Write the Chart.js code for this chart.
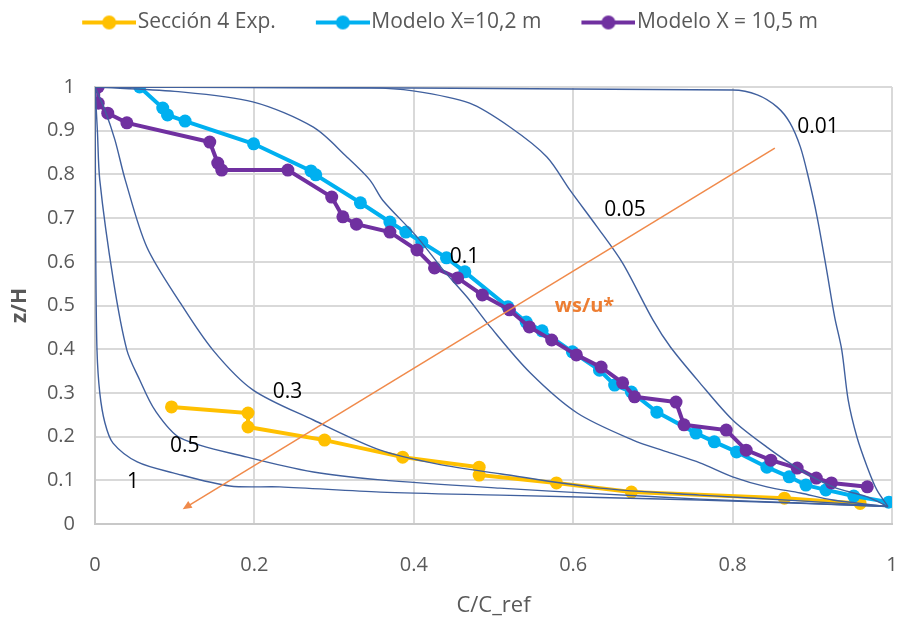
<!DOCTYPE html>
<html>
<head>
<meta charset="utf-8">
<script src="https://cdn.jsdelivr.net/npm/chart.js@4.4.1/dist/chart.umd.min.js"></script>
<style>
  html, body { margin: 0; padding: 0; background: #fff; }
  #wrap { width: 901px; height: 624px; }
</style>
</head>
<body>
<div id="wrap"><canvas id="c" width="901" height="624"></canvas></div>
<script>
// measured series (C/C_ref, z/H)
const seccion4X = [0.096, 0.192, 0.192, 0.288, 0.386, 0.482, 0.482, 0.579, 0.673, 0.865, 0.96];
const seccion4Y = [0.268, 0.254, 0.222, 0.192, 0.153, 0.130, 0.112, 0.094, 0.073, 0.059, 0.047];

const modelo102X = [0.056, 0.085, 0.091, 0.113, 0.199, 0.271, 0.277, 0.333, 0.370, 0.390, 0.410, 0.441, 0.464,
  0.518, 0.541, 0.561, 0.599, 0.633, 0.652, 0.673, 0.705, 0.754, 0.777, 0.805, 0.843, 0.871, 0.892, 0.917, 0.952, 0.996];
const modelo102Y = [1.0, 0.952, 0.936, 0.922, 0.870, 0.808, 0.799, 0.735, 0.691, 0.668, 0.645, 0.609, 0.577,
  0.497, 0.462, 0.442, 0.394, 0.352, 0.318, 0.302, 0.256, 0.208, 0.188, 0.165, 0.130, 0.108, 0.089, 0.078, 0.064, 0.050];

const modelo105X = [0.004, 0.004, 0.016, 0.040, 0.144, 0.154, 0.159, 0.242, 0.297, 0.311, 0.328, 0.370, 0.404, 0.426,
  0.455, 0.486, 0.520, 0.545, 0.573, 0.604, 0.635, 0.662, 0.677, 0.729, 0.739, 0.792, 0.817, 0.848, 0.881, 0.905, 0.924, 0.969];
const modelo105Y = [1.0, 0.963, 0.940, 0.918, 0.874, 0.826, 0.810, 0.810, 0.748, 0.703, 0.686, 0.668, 0.627, 0.586,
  0.563, 0.524, 0.490, 0.451, 0.421, 0.387, 0.359, 0.323, 0.291, 0.279, 0.227, 0.215, 0.169, 0.146, 0.128, 0.105, 0.094, 0.085];

// Rouse profiles, ws/u* = 0.01 ... 1
const rouse001X = [0, 0.80, 0.831, 0.856, 0.872, 0.885, 0.895, 0.906, 0.918, 0.928, 0.937, 0.945, 0.956, 0.969, 0.981, 0.995];
const rouse001Y = [1, 0.993, 0.982, 0.954, 0.918, 0.863, 0.794, 0.703, 0.581, 0.474, 0.398, 0.284, 0.199, 0.130, 0.078, 0.04];

const rouse005X = [0, 0.345, 0.399, 0.47, 0.521, 0.567, 0.596, 0.630, 0.662, 0.700, 0.722, 0.757, 0.80, 0.843, 0.885, 0.926, 0.969, 0.995];
const rouse005Y = [1, 0.998, 0.991, 0.963, 0.908, 0.840, 0.764, 0.680, 0.597, 0.467, 0.405, 0.327, 0.238, 0.176, 0.124, 0.085, 0.062, 0.04];

const rouse01X = [0, 0.10, 0.198, 0.274, 0.316, 0.345, 0.361, 0.404, 0.437, 0.467, 0.496, 0.546, 0.605, 0.675, 0.718, 0.759, 0.80, 0.843, 0.885, 0.926, 0.995];
const rouse01Y = [1, 0.99, 0.966, 0.908, 0.840, 0.787, 0.741, 0.657, 0.581, 0.519, 0.451, 0.346, 0.254, 0.192, 0.165, 0.140, 0.108, 0.085, 0.071, 0.055, 0.04];

const rouse03X = [0, 0.0125, 0.025, 0.038, 0.065, 0.107, 0.148, 0.198, 0.274, 0.358, 0.43, 0.508, 0.634, 0.759, 0.885, 0.995];
const rouse03Y = [1, 0.947, 0.879, 0.787, 0.634, 0.506, 0.398, 0.307, 0.238, 0.169, 0.137, 0.115, 0.082, 0.066, 0.053, 0.04];

const rouse05X = [0, 0.003, 0.006, 0.023, 0.040, 0.056, 0.075, 0.107, 0.191, 0.274, 0.358, 0.508, 0.634, 0.759, 0.885, 0.995];
const rouse05Y = [1, 0.90, 0.787, 0.558, 0.398, 0.330, 0.261, 0.197, 0.153, 0.119, 0.101, 0.082, 0.069, 0.057, 0.048, 0.04];

const rouse1X = [0, 0.0005, 0.001, 0.0025, 0.006, 0.0125, 0.0226, 0.053, 0.098, 0.169, 0.232, 0.358, 0.508, 0.759, 0.995];
const rouse1Y = [1, 0.8, 0.6, 0.398, 0.30, 0.231, 0.185, 0.142, 0.117, 0.087, 0.085, 0.073, 0.066, 0.055, 0.04];

const seriesNames = ['Sección 4 Exp.', 'Modelo X=10,2 m', 'Modelo X = 10,5 m'];
const rouseNames = ['0.01', '0.05', '0.1', '0.3', '0.5', '1'];

const zip = (xs, ys) => xs.map((x, i) => ({ x: x, y: ys[i] }));

const FONT = "'Open Sans', 'Liberation Sans', sans-serif";
const YELLOW = '#FFC000', CYAN = '#00B0F0', PURPLE = '#7030A0', NAVY = '#40609E', ORANGE = '#F08A4B';

// line + dot legend marker; transparent lead-in gives the gap between items,
// and the mark is pushed right so it sits next to its text
function legendIcon(color) {
  const c = document.createElement('canvas');
  c.width = 91; c.height = 16;
  const g = c.getContext('2d');
  g.strokeStyle = color;
  g.lineWidth = 4;
  g.beginPath(); g.moveTo(37, 8); g.lineTo(91, 8); g.stroke();
  g.fillStyle = color;
  g.beginPath(); g.arc(64, 8, 7, 0, Math.PI * 2); g.fill();
  return c;
}
const icons = [legendIcon(YELLOW), legendIcon(CYAN), legendIcon(PURPLE)];

function series(label, xs, ys, color, order) {
  return {
    label: label, data: zip(xs, ys), showLine: true, order: order,
    borderColor: color, backgroundColor: color, borderWidth: 4,
    pointRadius: 6.5, pointBorderWidth: 0, tension: 0
  };
}
function rouse(label, xs, ys) {
  return {
    label: label, data: zip(xs, ys), showLine: true, order: 1,
    borderColor: NAVY, borderWidth: 1.4, pointRadius: 0, tension: 0.3
  };
}

// curve labels and the ws/u* arrow, placed in data coordinates
const curveLabelPos = [[0.881, 0.908], [0.639, 0.718], [0.445, 0.611], [0.223, 0.302], [0.094, 0.178], [0.040, 0.096]];
const arrowFrom = [0.853, 0.860], arrowTo = [0.110, 0.034];

const annotations = {
  id: 'annotations',
  afterDatasetsDraw(chart) {
    const { ctx, scales: { x, y } } = chart;
    ctx.save();
    const x0 = x.getPixelForValue(arrowFrom[0]), y0 = y.getPixelForValue(arrowFrom[1]);
    const x1 = x.getPixelForValue(arrowTo[0]), y1 = y.getPixelForValue(arrowTo[1]);
    const a = Math.atan2(y1 - y0, x1 - x0);
    ctx.strokeStyle = ORANGE; ctx.fillStyle = ORANGE; ctx.lineWidth = 1.5;
    ctx.beginPath(); ctx.moveTo(x0, y0); ctx.lineTo(x1 - 6 * Math.cos(a), y1 - 6 * Math.sin(a)); ctx.stroke();
    ctx.beginPath();
    ctx.moveTo(x1, y1);
    ctx.lineTo(x1 - 9 * Math.cos(a) + 4 * Math.sin(a), y1 - 9 * Math.sin(a) - 4 * Math.cos(a));
    ctx.lineTo(x1 - 9 * Math.cos(a) - 4 * Math.sin(a), y1 - 9 * Math.sin(a) + 4 * Math.cos(a));
    ctx.closePath(); ctx.fill();

    ctx.textAlign = 'left'; ctx.textBaseline = 'middle';
    ctx.fillStyle = '#000';
    ctx.font = '21px ' + FONT;
    rouseNames.forEach((t, i) => {
      ctx.fillText(t, x.getPixelForValue(curveLabelPos[i][0]), y.getPixelForValue(curveLabelPos[i][1]));
    });
    ctx.fillStyle = '#ED7D31';
    ctx.font = 'bold 20px ' + FONT;
    ctx.fillText('ws/u*', x.getPixelForValue(0.577), y.getPixelForValue(0.499));
    ctx.restore();
  }
};

// fixed legend band above the plot, nudged a little to the left
const legendHeight = {
  id: 'legendHeight',
  beforeInit(chart) {
    const fit = chart.legend.fit;
    chart.legend.fit = function () { fit.call(this); this.height = 87; };
  },
  afterLayout(chart) {
    chart.legend.left -= 10;
    chart.legend.right -= 10;
  }
};

const tickText = v => String(Math.round(v * 10) / 10);

new Chart(document.getElementById('c'), {
  type: 'scatter',
  data: {
    datasets: [
      series(seriesNames[0], seccion4X, seccion4Y, YELLOW, 4),
      series(seriesNames[1], modelo102X, modelo102Y, CYAN, 3),
      series(seriesNames[2], modelo105X, modelo105Y, PURPLE, 2),
      rouse(rouseNames[0], rouse001X, rouse001Y),
      rouse(rouseNames[1], rouse005X, rouse005Y),
      rouse(rouseNames[2], rouse01X, rouse01Y),
      rouse(rouseNames[3], rouse03X, rouse03Y),
      rouse(rouseNames[4], rouse05X, rouse05Y),
      rouse(rouseNames[5], rouse1X, rouse1Y)
    ]
  },
  options: {
    responsive: false,
    animation: false,
    layout: { padding: { right: 9 } },
    plugins: {
      tooltip: { enabled: false },
      legend: {
        position: 'top',
        labels: {
          usePointStyle: true,
          pointStyleWidth: 73,
          padding: 12,
          color: '#595959',
          font: { family: FONT, size: 21 },
          generateLabels(chart) {
            return Chart.defaults.plugins.legend.labels.generateLabels(chart)
              .filter(l => l.datasetIndex < 3)
              .sort((a, b) => a.datasetIndex - b.datasetIndex)
              .map(l => Object.assign(l, { pointStyle: icons[l.datasetIndex] }));
          }
        }
      }
    },
    scales: {
      x: {
        type: 'linear', min: 0, max: 1,
        ticks: { stepSize: 0.2, color: '#595959', padding: 29, font: { family: FONT, size: 20 }, callback: tickText },
        grid: { color: '#d9d9d9', lineWidth: 2, drawTicks: false },
        border: { color: '#c8c8c8', width: 2 },
        title: { display: true, text: 'C/C_ref', color: '#595959', padding: { bottom: 5 }, font: { family: FONT, size: 22 } },
        afterFit(s) { s.height = 100; s.paddingLeft = 0; s.paddingRight = 0; }
      },
      y: {
        type: 'linear', min: 0, max: 1,
        ticks: { stepSize: 0.1, color: '#595959', padding: 20, font: { family: FONT, size: 20 }, callback: tickText },
        grid: { color: '#d9d9d9', lineWidth: 2, drawTicks: false },
        border: { color: '#c8c8c8', width: 2 },
        title: { display: true, text: 'z/H', color: '#595959', padding: { top: 7 }, font: { family: FONT, size: 21, weight: 'bold' } },
        afterFit(s) { s.width = 95; }
      }
    }
  },
  plugins: [legendHeight, annotations]
});
</script>
</body>
</html>
